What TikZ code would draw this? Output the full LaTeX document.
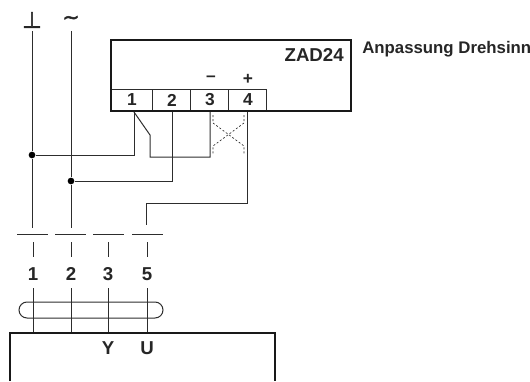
\documentclass[tikz,border=0pt]{standalone}
\usepackage{fontspec}
\setmainfont{Liberation Sans}
\newfontfamily\symbfont[FakeBold=2.5]{DejaVu Sans}
\usepackage{tikz}
\usetikzlibrary{positioning, calc}
\definecolor{wirecol}{RGB}{45, 45, 45}
\tikzstyle{wire} = [
    line width=0.75pt,
    color=wirecol
]
\tikzstyle{heavy} = [
    line width=2pt,
    color=black!90
]
\tikzstyle{thin} = [
    line width=0.6pt,
    color=wirecol
]
\tikzstyle{crossed} = [
    line width=0.5pt,
    dash pattern=on 1.5pt off 1.5pt,
    color=wirecol
]
\tikzstyle{label} = [
    inner sep=0pt,
    font=\fontsize{13}{13}\selectfont\bfseries,
    text=black!85
]
\tikzstyle{bigger} = [
    label,
    font=\fontsize{14}{14}\selectfont\bfseries
]
\tikzstyle{dot} = [
    circle,
    fill=black,
    inner sep=0pt,
    minimum size=5pt
]
\begin{document}
\begin{tikzpicture}[x=0.75pt, y=-0.75pt]
        \useasboundingbox (0,0) rectangle (530,381);

        % module box
        \draw[wire] (111,90) -- (266,90) -- (266,111);
        \foreach \xpos in {152,190,228} {
            \draw[thin] (\xpos,90) -- (\xpos,111);
        }
        \draw[heavy] (351,40) -- (111,40) -- (111,111) -- (351,111) -- cycle;

        \node[bigger, anchor=east] (zad) at (344,55) {ZAD24};
        \node[label, anchor=west, font=\fontsize{12.6}{13}\selectfont\bfseries] (title) at (362,49) {Anpassung Drehsinn};
        \node[label] (minus) at (211,79) {--};
        \node[label] (plus) at (248,79) {+};
        \node[label] (t1) at (132,100) {1};
        \node[label] (t2) at (172,100) {2};
        \node[label] (t3) at (210,100) {3};
        \node[label] (t4) at (248,100) {4};

        % supply symbols
        \node[label, font=\fontsize{17}{17}\symbfont] (gnd) at (32,20) {⊥};
        \node[label, font=\fontsize{15}{15}\symbfont] (ac) at (71,20) {\char"007E};

        % junctions
        \node[dot] (j1) at (32,155) {};
        \node[dot] (j2) at (71,181) {};

        % terminals
        \coordinate (a1) at (134,112);
        \coordinate (a2) at (172,112);
        \coordinate (a3) at (210,112);
        \coordinate (a4) at (247,112);

        \draw[wire] (32,31) -- (j1) -- (32,228);
        \draw[wire] (71,31) -- (j2) -- (71,228);
        \draw[wire] (j1) -- (134,155) -- (a1);
        \draw[wire] (j2) -- (172,181) -- (a2);
        \draw[wire] (a1) -- (150,135) -- (150,157) -- (210,157) -- (a3);
        \draw[wire] (a4) -- (247,203) -- (146,203) -- (146,225);

        % crossover
        \draw[crossed] (213,115) -- (213,123) -- (244,146) -- (244,154);
        \draw[crossed] (244,115) -- (244,123) -- (213,146) -- (213,154);

        % breaks
        \foreach \xa/\xb in {17/48, 55/86, 93/124, 132/163} {
            \draw[wire] (\xa,234) -- (\xb,234);
        }
        \foreach \xpos/\txt in {33/1, 71/2, 108/3, 147/5} {
            \draw[wire] (\xpos,242) -- (\xpos,257);
            \node[bigger] at (\xpos,274) {\txt};
            \draw[wire] (\xpos,288) -- (\xpos,333);
        }

        % cable loop
        \draw[wire, rounded corners=6pt] (19,302) rectangle (163,318);

        % device
        \draw[heavy] (10,381) -- (10,333) -- (275,333) -- (275,381);
        \node[bigger] (y) at (108,348) {Y};
        \node[bigger] (u) at (147,348) {U};
    \end{tikzpicture}
\end{document}
